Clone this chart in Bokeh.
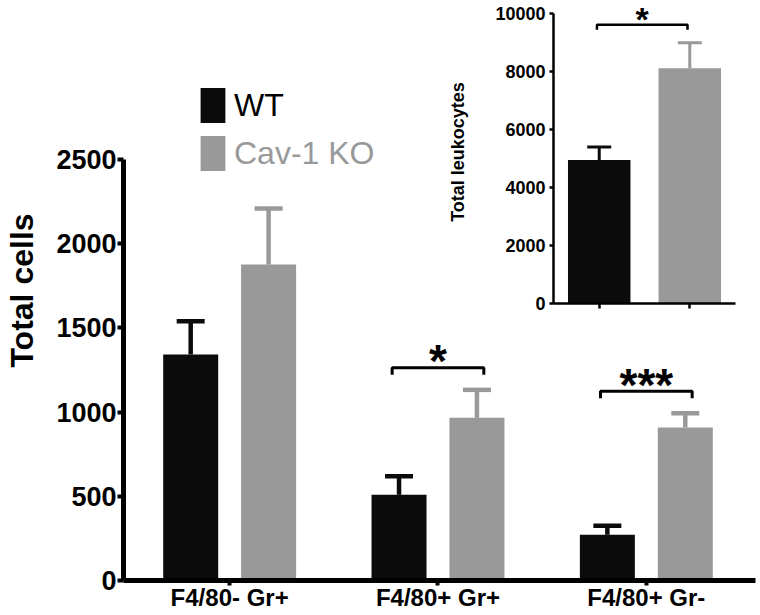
import numpy as np
from bokeh.plotting import figure
from bokeh.models import (Range1d, FixedTicker, Whisker, TeeHead, ColumnDataSource,
                          Legend, LegendItem)
from bokeh.layouts import column
from bokeh.embed import file_html
from bokeh.resources import INLINE
from bokeh.core.properties import value

# ---------------- data ----------------
categories = ["F4/80- Gr+", "F4/80+ Gr+", "F4/80+ Gr-"]
wt_mean = [1342, 509, 271]
wt_sem = [198, 110, 54]
ko_mean = [1876, 966, 908]
ko_sem = [333, 166, 85]
sig_main = ["", "*", "***"]
y_ticks_main = [0, 500, 1000, 1500, 2000, 2500]

inset_groups = ["WT", "Cav-1 KO"]
inset_mean = [4945, 8103]
inset_sem = [448, 876]
sig_inset = "*"
y_ticks_inset = [0, 2000, 4000, 6000, 8000, 10000]

series_names = ["WT", "Cav-1 KO"]

# ---------------- style ----------------
FONT = "Liberation Sans"
BLACK = "#0b0b0b"
GRAY = "#999999"

# ---------------- main chart ----------------
W, H = 760, 615
BORDER_BOTTOM = 35
FRAME_H = H - BORDER_BOTTOM
Y_END = 3444
PPU = FRAME_H / Y_END  # pixels per data unit

p = figure(width=W, height=H, output_backend="svg", toolbar_location=None,
           x_range=Range1d(-0.5095, 2.524), y_range=Range1d(0, Y_END),
           min_border_left=123, min_border_right=0, min_border_top=0,
           min_border_bottom=BORDER_BOTTOM, outline_line_color=None,
           margin=(0, 0, 0, 0))
p.xgrid.visible = False
p.ygrid.visible = False

idx = np.arange(len(categories))
off, bw = 0.187, 0.264

src_wt = ColumnDataSource(dict(x=idx - off, top=wt_mean,
                               upper=np.add(wt_mean, wt_sem)))
src_ko = ColumnDataSource(dict(x=idx + off, top=ko_mean,
                               upper=np.add(ko_mean, ko_sem)))

r_wt = p.vbar(x="x", top="top", width=bw, source=src_wt,
              fill_color=BLACK, line_color=None)
r_ko = p.vbar(x="x", top="top", width=bw, source=src_ko,
              fill_color=GRAY, line_color=None)

for src, col in ((src_wt, BLACK), (src_ko, GRAY)):
    p.add_layout(Whisker(source=src, base="x", upper="upper", lower="top",
                         dimension="height", line_color=col, line_width=4.5,
                         upper_head=TeeHead(size=28, line_color=col, line_width=4.5),
                         lower_head=None, level="glyph"))

# significance brackets
gap = 22 / PPU
tip = 7 / PPU
star_up = 13 / PPU
sx, sy, st = [], [], []
for i, s in enumerate(sig_main):
    if not s:
        continue
    top = max(wt_mean[i] + wt_sem[i], ko_mean[i] + ko_sem[i])
    yb = top + gap
    x0, x1 = i - 0.22, i + 0.22
    p.line([x0, x0, x1, x1], [yb - tip, yb, yb, yb - tip],
           line_color="black", line_width=3)
    sx.append(i)
    sy.append(yb + star_up)
    st.append(s)
p.text(x=sx, y=sy, text=st, text_font=value(FONT), text_font_style="bold",
       text_font_size="46px", text_align="center", text_baseline="alphabetic",
       y_offset=0.14 * 46, text_color="black")

# axes
xa = p.xaxis[0]
xa.ticker = FixedTicker(ticks=[int(i) for i in idx])
xa.major_label_overrides = {int(i): c for i, c in enumerate(categories)}
xa.axis_line_width = 5
xa.major_tick_line_width = 4
xa.major_tick_out = 5
xa.major_tick_in = 0
xa.minor_tick_out = 0
xa.major_label_standoff = -2
xa.major_label_text_font = FONT
xa.major_label_text_font_style = "bold"
xa.major_label_text_font_size = "24px"
xa.major_label_text_color = "black"

ya = p.yaxis[0]
ya.ticker = FixedTicker(ticks=y_ticks_main)
ya.bounds = (y_ticks_main[0], y_ticks_main[-1])
ya.axis_line_width = 5
ya.major_tick_line_width = 4
ya.major_tick_out = 6
ya.major_tick_in = 0
ya.minor_tick_out = 0
ya.major_label_standoff = 1
ya.major_label_text_font = FONT
ya.major_label_text_font_style = "bold"
ya.major_label_text_font_size = "27px"
ya.major_label_text_color = "black"
ya.axis_label = "Total cells"
ya.axis_label_text_font = FONT
ya.axis_label_text_font_style = "bold"
ya.axis_label_text_font_size = "32px"
ya.axis_label_text_color = "black"
ya.axis_label_standoff = 13

# legends (one per series so the label colours can differ)
for name, rend, col, loc in ((series_names[0], r_wt, "black", (74, 453)),
                             (series_names[1], r_ko, GRAY, (74, 405))):
    leg = Legend(items=[LegendItem(label=name, renderers=[rend])],
                 location=loc, margin=0, padding=0, border_line_color=None,
                 background_fill_alpha=0, glyph_width=31, glyph_height=44,
                 label_height=44, label_standoff=6,
                 label_text_font=FONT, label_text_font_size="32px",
                 label_text_color=col)
    p.add_layout(leg, "center")

# ---------------- inset chart ----------------
IW, IH = 310, 318
I_BB = 15
I_FRAME_H = IH - I_BB
I_Y_END = 10438
I_PPU = I_FRAME_H / I_Y_END

q = figure(width=IW, height=IH, output_backend="svg", toolbar_location=None,
           x_range=Range1d(-0.505, 1.505), y_range=Range1d(0, I_Y_END),
           min_border_left=110, min_border_right=5, min_border_top=0,
           min_border_bottom=I_BB, outline_line_color=None,
           margin=(-H, 0, H - IH, 430))
q.xgrid.visible = False
q.ygrid.visible = False

iidx = np.arange(len(inset_groups))
src_in = ColumnDataSource(dict(x=iidx, top=inset_mean,
                               upper=np.add(inset_mean, inset_sem),
                               color=[BLACK, GRAY], group=inset_groups))
q.vbar(x="x", top="top", width=0.69, source=src_in, fill_color="color",
       line_color=None)
for i, col in enumerate([BLACK, GRAY]):
    s = ColumnDataSource(dict(x=[iidx[i]], top=[inset_mean[i]],
                              upper=[inset_mean[i] + inset_sem[i]]))
    q.add_layout(Whisker(source=s, base="x", upper="upper", lower="top",
                         dimension="height", line_color=col, line_width=3,
                         upper_head=TeeHead(size=24, line_color=col, line_width=3),
                         lower_head=None, level="glyph"))

itop = max(m + e for m, e in zip(inset_mean, inset_sem))
iyb = itop + 18 / I_PPU
itip = 5 / I_PPU
ix0, ix1 = iidx[0] - 0.025, iidx[1] - 0.025
q.line([ix0, ix0, ix1, ix1], [iyb - itip, iyb, iyb, iyb - itip],
       line_color="black", line_width=2.5)
q.text(x=[(ix0 + ix1) / 2], y=[iyb + 11 / I_PPU], text=[sig_inset],
       text_font=value(FONT), text_font_style="bold", text_font_size="34px",
       text_align="center", text_baseline="alphabetic", y_offset=0.15 * 34,
       text_color="black")

qa = q.xaxis[0]
qa.ticker = FixedTicker(ticks=[int(i) for i in iidx])
qa.major_label_overrides = {int(i): "" for i in iidx}
qa.axis_line_width = 2.5
qa.major_tick_line_width = 2.5
qa.major_tick_out = 5
qa.major_tick_in = 0
qa.minor_tick_out = 0
qa.major_label_text_font_size = "2px"
qa.major_label_standoff = 0

qy = q.yaxis[0]
qy.ticker = FixedTicker(ticks=y_ticks_inset)
qy.bounds = (y_ticks_inset[0], y_ticks_inset[-1])
qy.axis_line_width = 2.5
qy.major_tick_line_width = 2.5
qy.major_tick_out = 4
qy.major_tick_in = 0
qy.minor_tick_out = 0
qy.major_label_standoff = 4
qy.major_label_text_font = FONT
qy.major_label_text_font_style = "bold"
qy.major_label_text_font_size = "18px"
qy.major_label_text_color = "black"
qy.axis_label = "Total leukocytes"
qy.axis_label_text_font = FONT
qy.axis_label_text_font_style = "bold"
qy.axis_label_text_font_size = "18px"
qy.axis_label_text_color = "black"
qy.axis_label_standoff = 24

layout = column(p, q)
open("out.html", "w").write(file_html(layout, INLINE))
